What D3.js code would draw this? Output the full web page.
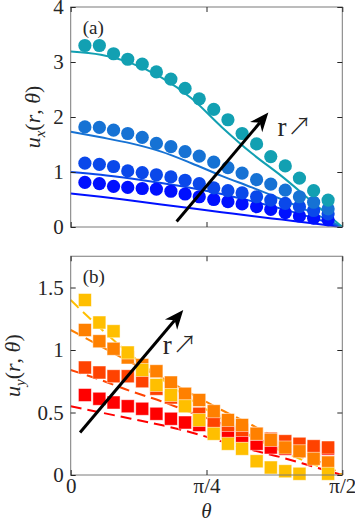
<!DOCTYPE html>
<html>
<head>
<meta charset="utf-8">
<script src="https://cdn.jsdelivr.net/npm/d3@7"></script>
<style>
  body { margin: 0; background: #fff; }
  text { fill: #262626; }
</style>
</head>
<body>
<svg id="chart" width="355" height="523"></svg>
<script>
// theta in degrees
const thetaPts = [4.7, 9.5, 14.2, 18.9, 23.7, 28.4, 33.2, 37.9, 42.6, 47.4, 52.1, 56.8, 61.6, 66.3, 71.1, 75.8, 80.5, 85.3];
const thetaFit = [0, 10, 20, 30, 40, 50, 60, 70, 80, 90];
const xTickVals = [0, 45, 90];
const xTickLabels = ["0", "π/4", "π/2"];

// panel (a) u_x, smallest r first
const uxPts1 = [0.81, 0.79, 0.74, 0.72, 0.70, 0.69, 0.65, 0.60, 0.55, 0.50, 0.46, 0.42, 0.37, 0.32, 0.26, 0.20, 0.16, 0.13];
const uxPts2 = [1.16, 1.14, 1.10, 1.02, 0.99, 0.95, 0.91, 0.85, 0.79, 0.71, 0.66, 0.62, 0.55, 0.49, 0.43, 0.37, 0.30, 0.24];
const uxPts3 = [1.82, 1.81, 1.76, 1.70, 1.63, 1.52, 1.46, 1.37, 1.29, 1.18, 1.08, 0.98, 0.86, 0.78, 0.67, 0.55, 0.45, 0.33];
const uxPts4 = [3.30, 3.30, 3.15, 3.05, 2.96, 2.82, 2.69, 2.52, 2.33, 2.14, 1.95, 1.70, 1.51, 1.28, 1.11, 0.89, 0.66, 0.49];
const uxFit1 = [0.61, 0.55, 0.48, 0.41, 0.34, 0.27, 0.20, 0.135, 0.07, 0];
const uxFit2 = [1.00, 0.95, 0.88, 0.80, 0.71, 0.60, 0.47, 0.33, 0.17, 0];
const uxFit3 = [1.73, 1.63, 1.52, 1.37, 1.16, 0.93, 0.72, 0.50, 0.26, 0];
const uxFit4 = [3.19, 3.13, 2.98, 2.72, 2.34, 1.82, 1.34, 0.92, 0.46, 0];
const uxColors = ["#0010ff", "#0a48ea", "#1672d4", "#12a0b2"];
const uxTicks = [0, 1, 2, 3, 4];

// panel (b) u_y, smallest r first
const uyPts1 = [0.64, 0.61, 0.58, 0.55, 0.53, 0.49, 0.45, 0.42, 0.40, 0.36, 0.34, 0.31, 0.25, 0.22, 0.21, 0.20, 0.20, 0.21];
const uyPts2 = [0.86, 0.82, 0.79, 0.79, 0.75, 0.69, 0.62, 0.56, 0.49, 0.43, 0.40, 0.36, 0.33, 0.29, 0.27, 0.25, 0.23, 0.22];
const uyPts3 = [1.16, 1.07, 1.01, 0.94, 0.88, 0.83, 0.74, 0.65, 0.60, 0.51, 0.44, 0.40, 0.33, 0.28, 0.22, 0.19, 0.13, 0.10];
const uyPts4 = [1.40, 1.22, 1.15, 0.98, 0.84, 0.72, 0.64, 0.55, 0.44, 0.33, 0.25, 0.21, 0.11, 0.06, 0.03, 0.01, null, 0.01];
const uyFit1 = [0.55, 0.50, 0.45, 0.40, 0.34, 0.27, 0.20, 0.14, 0.07, 0];
const uyFit2 = [0.84, 0.76, 0.67, 0.59, 0.50, 0.41, 0.31, 0.21, 0.11, 0];
const uyFit3 = [1.16, 1.03, 0.90, 0.78, 0.65, 0.52, 0.40, 0.27, 0.14, 0];
const uyFit4 = [1.40, 1.17, 0.96, 0.77, 0.60, 0.45, 0.31, 0.19, 0.09, 0];
const uyColors = ["#ff0000", "#ff4200", "#ff8000", "#ffbf00"];
const uyTicks = [0, 0.5, 1, 1.5];

const SERIF = "Liberation Serif, DejaVu Serif, serif";
const svg = d3.select("#chart");
const x = d3.scaleLinear().domain([0, 90]).range([70.7, 342.3]);

function drawPanel(o) {
  const y = d3.scaleLinear().domain(o.ydom).range(o.yrange);
  const g = svg.append("g");
  const top = o.yrange[1], bot = o.yrange[0];

  // fitted curves underneath
  const line = d3.line().x((d, i) => x(thetaFit[i])).y(d => y(d)).curve(d3.curveMonotoneX);
  o.fits.forEach((f, i) => {
    g.append("path").attr("d", line(f)).attr("fill", "none")
      .attr("stroke", o.colors[i]).attr("stroke-width", 2)
      .attr("stroke-dasharray", o.dashed ? "11,6" : null);
  });

  // measured points
  o.pts.forEach((p, i) => {
    const data = p.map((v, k) => [thetaPts[k], v]).filter(d => d[1] !== null);
    if (o.square) {
      g.selectAll(null).data(data).enter().append("rect")
        .attr("x", d => x(d[0]) - 6.5).attr("y", d => y(d[1]) - 6.5)
        .attr("width", 13).attr("height", 13)
        .attr("fill", o.colors[i]).attr("stroke", "#fff").attr("stroke-opacity", 0.6).attr("stroke-width", 0.8);
    } else {
      g.selectAll(null).data(data).enter().append("circle")
        .attr("cx", d => x(d[0])).attr("cy", d => y(d[1])).attr("r", 6.6)
        .attr("fill", o.colors[i]);
    }
  });

  // box + ticks
  g.append("rect").attr("x", x(0)).attr("y", top).attr("width", x(90) - x(0)).attr("height", bot - top)
    .attr("fill", "none").attr("stroke", "#7a7a7a").attr("stroke-width", 1);
  const yl = g.append("g").attr("transform", `translate(${x(0)},0)`)
    .call(d3.axisLeft(y).tickValues(o.yticks).tickSize(-5).tickPadding(7).tickFormat(d3.format("")));
  const yr = g.append("g").attr("transform", `translate(${x(90)},0)`)
    .call(d3.axisRight(y).tickValues(o.yticks).tickSize(-5).tickFormat(""));
  const xb = g.append("g").attr("transform", `translate(0,${bot})`)
    .call(d3.axisBottom(x).tickValues(xTickVals).tickSize(-5).tickPadding(3)
      .tickFormat((d, i) => o.showX ? xTickLabels[i] : ""));
  const xt = g.append("g").attr("transform", `translate(0,${top})`)
    .call(d3.axisTop(x).tickValues(xTickVals).tickSize(-5).tickFormat(""));
  [yl, yr, xb, xt].forEach(a => {
    a.attr("font-family", SERIF);
    a.select(".domain").remove();
    a.selectAll("line").attr("stroke", "#262626");
    a.selectAll("text").attr("font-size", 21).attr("fill", "#262626");
  });

  // panel letter
  g.append("text").attr("x", x(0) + 12).attr("y", top + 27).attr("font-family", SERIF)
    .attr("font-size", 19).text(o.letter);

  // y label
  const lab = g.append("text").attr("font-size", 22).attr("font-family", SERIF)
    .attr("transform", `translate(${o.labelX},${(top + bot) / 2}) rotate(-90)`)
    .attr("text-anchor", "middle");
  lab.append("tspan").attr("font-style", "italic").text("u");
  lab.append("tspan").attr("font-style", "italic").attr("font-size", 15).attr("dy", 5).text(o.sub);
  lab.append("tspan").attr("dy", -5).text("(");
  lab.append("tspan").attr("font-style", "italic").text("r");
  lab.append("tspan").text(", ");
  lab.append("tspan").attr("font-style", "italic").text("θ");
  lab.append("tspan").text(")");

  // r arrow annotation
  const a0 = [x(o.arrow[0]), y(o.arrow[1])], a1 = [x(o.arrow[2]), y(o.arrow[3])];
  const ang = Math.atan2(a1[1] - a0[1], a1[0] - a0[0]);
  const L = 19, W = 8;
  const ux = Math.cos(ang), uy = Math.sin(ang);
  const base = [a1[0] - L * ux, a1[1] - L * uy];
  const back = [a1[0] - L * 0.7 * ux, a1[1] - L * 0.7 * uy];
  g.append("line").attr("x1", a0[0]).attr("y1", a0[1]).attr("x2", back[0]).attr("y2", back[1])
    .attr("stroke", "#000").attr("stroke-width", 3);
  g.append("path").attr("fill", "#000").attr("d",
    `M${a1[0]},${a1[1]} L${base[0] - W * uy},${base[1] + W * ux} L${back[0]},${back[1]} L${base[0] + W * uy},${base[1] - W * ux}Z`);
  const rt = g.append("text").attr("x", x(o.rText[0])).attr("y", y(o.rText[1])).attr("font-size", 27)
    .attr("font-family", SERIF).attr("fill", "#000");
  rt.append("tspan").text("r");
  rt.append("tspan").attr("font-family", "Noto Sans CJK JP, DejaVu Sans").attr("font-weight", 300)
    .attr("font-size", 24).attr("dx", 1).attr("dy", -1).text("↗");
  return y;
}

drawPanel({
  ydom: [0, 4], yrange: [227, 7], yticks: uxTicks, pts: [uxPts1, uxPts2, uxPts3, uxPts4],
  fits: [uxFit1, uxFit2, uxFit3, uxFit4], colors: uxColors, dashed: false, square: false,
  showX: false, letter: "(a)", sub: "x", labelX: 40, arrow: [35.1, 0.1, 65.5, 2.08], rText: [68.5, 1.66]
});
drawPanel({
  ydom: [0, 1.75], yrange: [475, 256.25], yticks: uyTicks, pts: [uyPts1, uyPts2, uyPts3, uyPts4],
  fits: [uyFit1, uyFit2, uyFit3, uyFit4], colors: uyColors, dashed: true, square: true,
  showX: true, letter: "(b)", sub: "y", labelX: 20, arrow: [3.1, 0.34, 37.3, 1.32], rText: [30.5, 0.97]
});

// x label
svg.append("text").attr("x", x(45)).attr("y", 518).attr("text-anchor", "middle").attr("font-family", SERIF)
  .attr("font-size", 21).attr("font-style", "italic").text("θ");
</script>
</body>
</html>
